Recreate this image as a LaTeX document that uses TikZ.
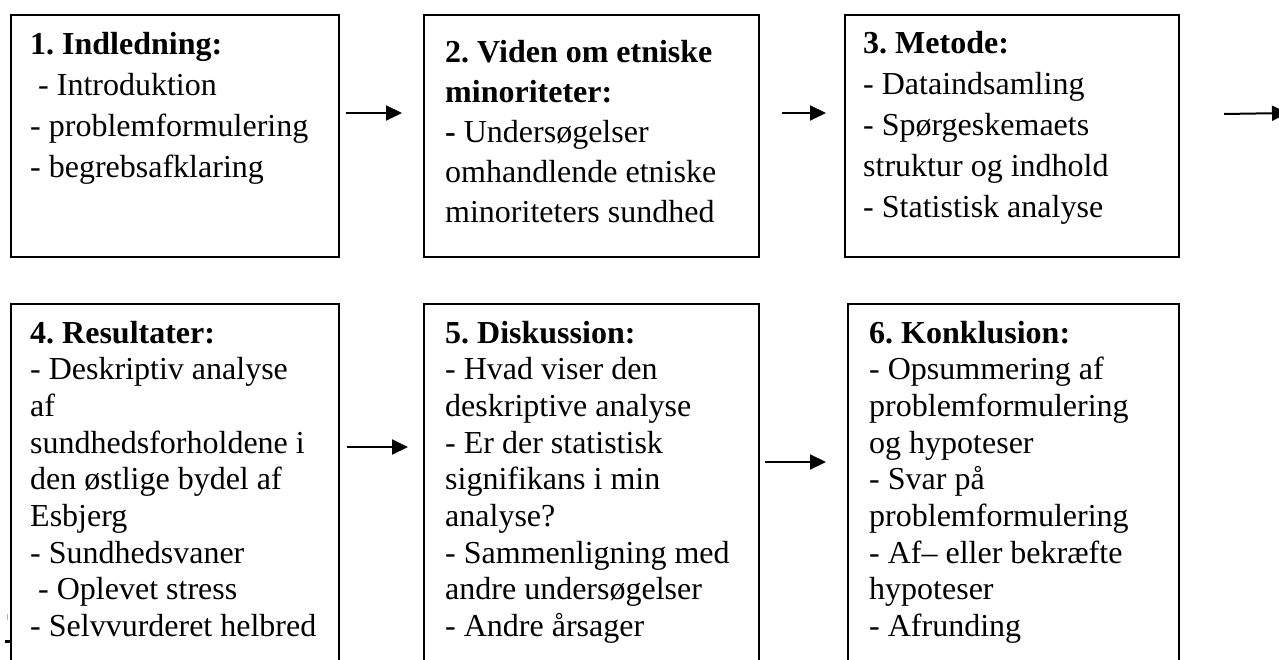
\documentclass[tikz,border=0pt]{standalone}
\usepackage{fontspec}
\setmainfont{Liberation Serif}
\usetikzlibrary{arrows.meta}
\newcommand{\boxlines}[2]{\parbox[t]{330pt}{\fontsize{32pt}{#1}\selectfont\frenchspacing\raggedright #2}}
\tikzset{
  boxst/.style={draw=black, line width=2pt, rectangle, inner sep=0pt, anchor=north west},
  topbox/.style={boxst, minimum height=242pt},
  lowbox/.style={boxst, minimum height=380pt},
  txt/.style={inner sep=0pt, anchor=base west},
  arr/.style={line width=2pt, -{Triangle[length=16pt,width=15pt]}}
}
\begin{document}
\begin{tikzpicture}[x=1pt,y=-1pt]
\useasboundingbox (0,0) rectangle (1279,660);
\clip (0,0) rectangle (1279,660);
\fill[white] (0,0) rectangle (1279,660);
% boxes
\node[topbox, minimum width=328pt] (b1) at (10,14) {};
\node[topbox, minimum width=335pt] (b2) at (423,14) {};
\node[topbox, minimum width=334pt] (b3) at (844,14) {};
\node[lowbox, minimum width=328pt] (b4) at (10,303) {};
\node[lowbox, minimum width=335pt] (b5) at (423,303) {};
\node[lowbox, minimum width=331pt] (b6) at (847,303) {};
% texts
\node[txt] (t1) at (30,55) {\boxlines{40.7pt}{\textbf{1. Indledning:}\\\hspace*{8pt}- Introduktion\\- problemformulering\\- begrebsafklaring}};
\node[txt] (t2) at (445,63) {\boxlines{39.8pt}{\textbf{2. Viden om etniske}\\\textbf{minoriteter:}\\\textbf{-} Undersøgelser\\omhandlende etniske\\minoriteters sundhed}};
\node[txt] (t3) at (863,54) {\boxlines{40.8pt}{\textbf{3. Metode:}\\- Dataindsamling\\- Spørgeskemaets\\struktur og indhold\\- Statistisk analyse}};
\node[txt] (t4) at (30,343) {\boxlines{36.7pt}{\textbf{4. Resultater:}\\- Deskriptiv analyse\\af\\sundhedsforholdene i\\den østlige bydel af\\Esbjerg\\- Sundhedsvaner\\\hspace*{8pt}- Oplevet stress\\- Selvvurderet helbred}};
\node[txt] (t5) at (445,343) {\boxlines{36.7pt}{\textbf{5. Diskussion:}\\- Hvad viser den\\deskriptive analyse\\- Er der statistisk\\signifikans i min\\analyse?\\- Sammenligning med\\andre undersøgelser\\- Andre årsager}};
\node[txt] (t6) at (869,343) {\boxlines{36.7pt}{\textbf{6. Konklusion:}\\- Opsummering af\\problemformulering\\og hypoteser\\- Svar på\\problemformulering\\- Af– eller bekræfte\\hypoteser\\- Afrunding}};
% arrows
\coordinate (out) at (1288,113);
\draw[arr] ([xshift=6pt,yshift=23pt]b1.east) -- ([xshift=-21pt,yshift=23pt]b2.west);
\draw[arr] ([xshift=22pt,yshift=23pt]b2.east) -- ([xshift=-18pt,yshift=23pt]b3.west);
\draw[arr] ([xshift=44pt,yshift=22pt]b3.east) -- (out);
\draw[arr] ([xshift=7pt,yshift=47pt]b4.east) -- ([xshift=-15pt,yshift=47pt]b5.west);
\draw[arr] ([xshift=5pt,yshift=32pt]b5.east) -- ([xshift=-21pt,yshift=32pt]b6.west);
% small marks at left edge
\fill[black] (5,640) rectangle (10,643);
\draw[gray!60, line width=1pt] (7,614) -- (7,620);
\end{tikzpicture}
\end{document}
